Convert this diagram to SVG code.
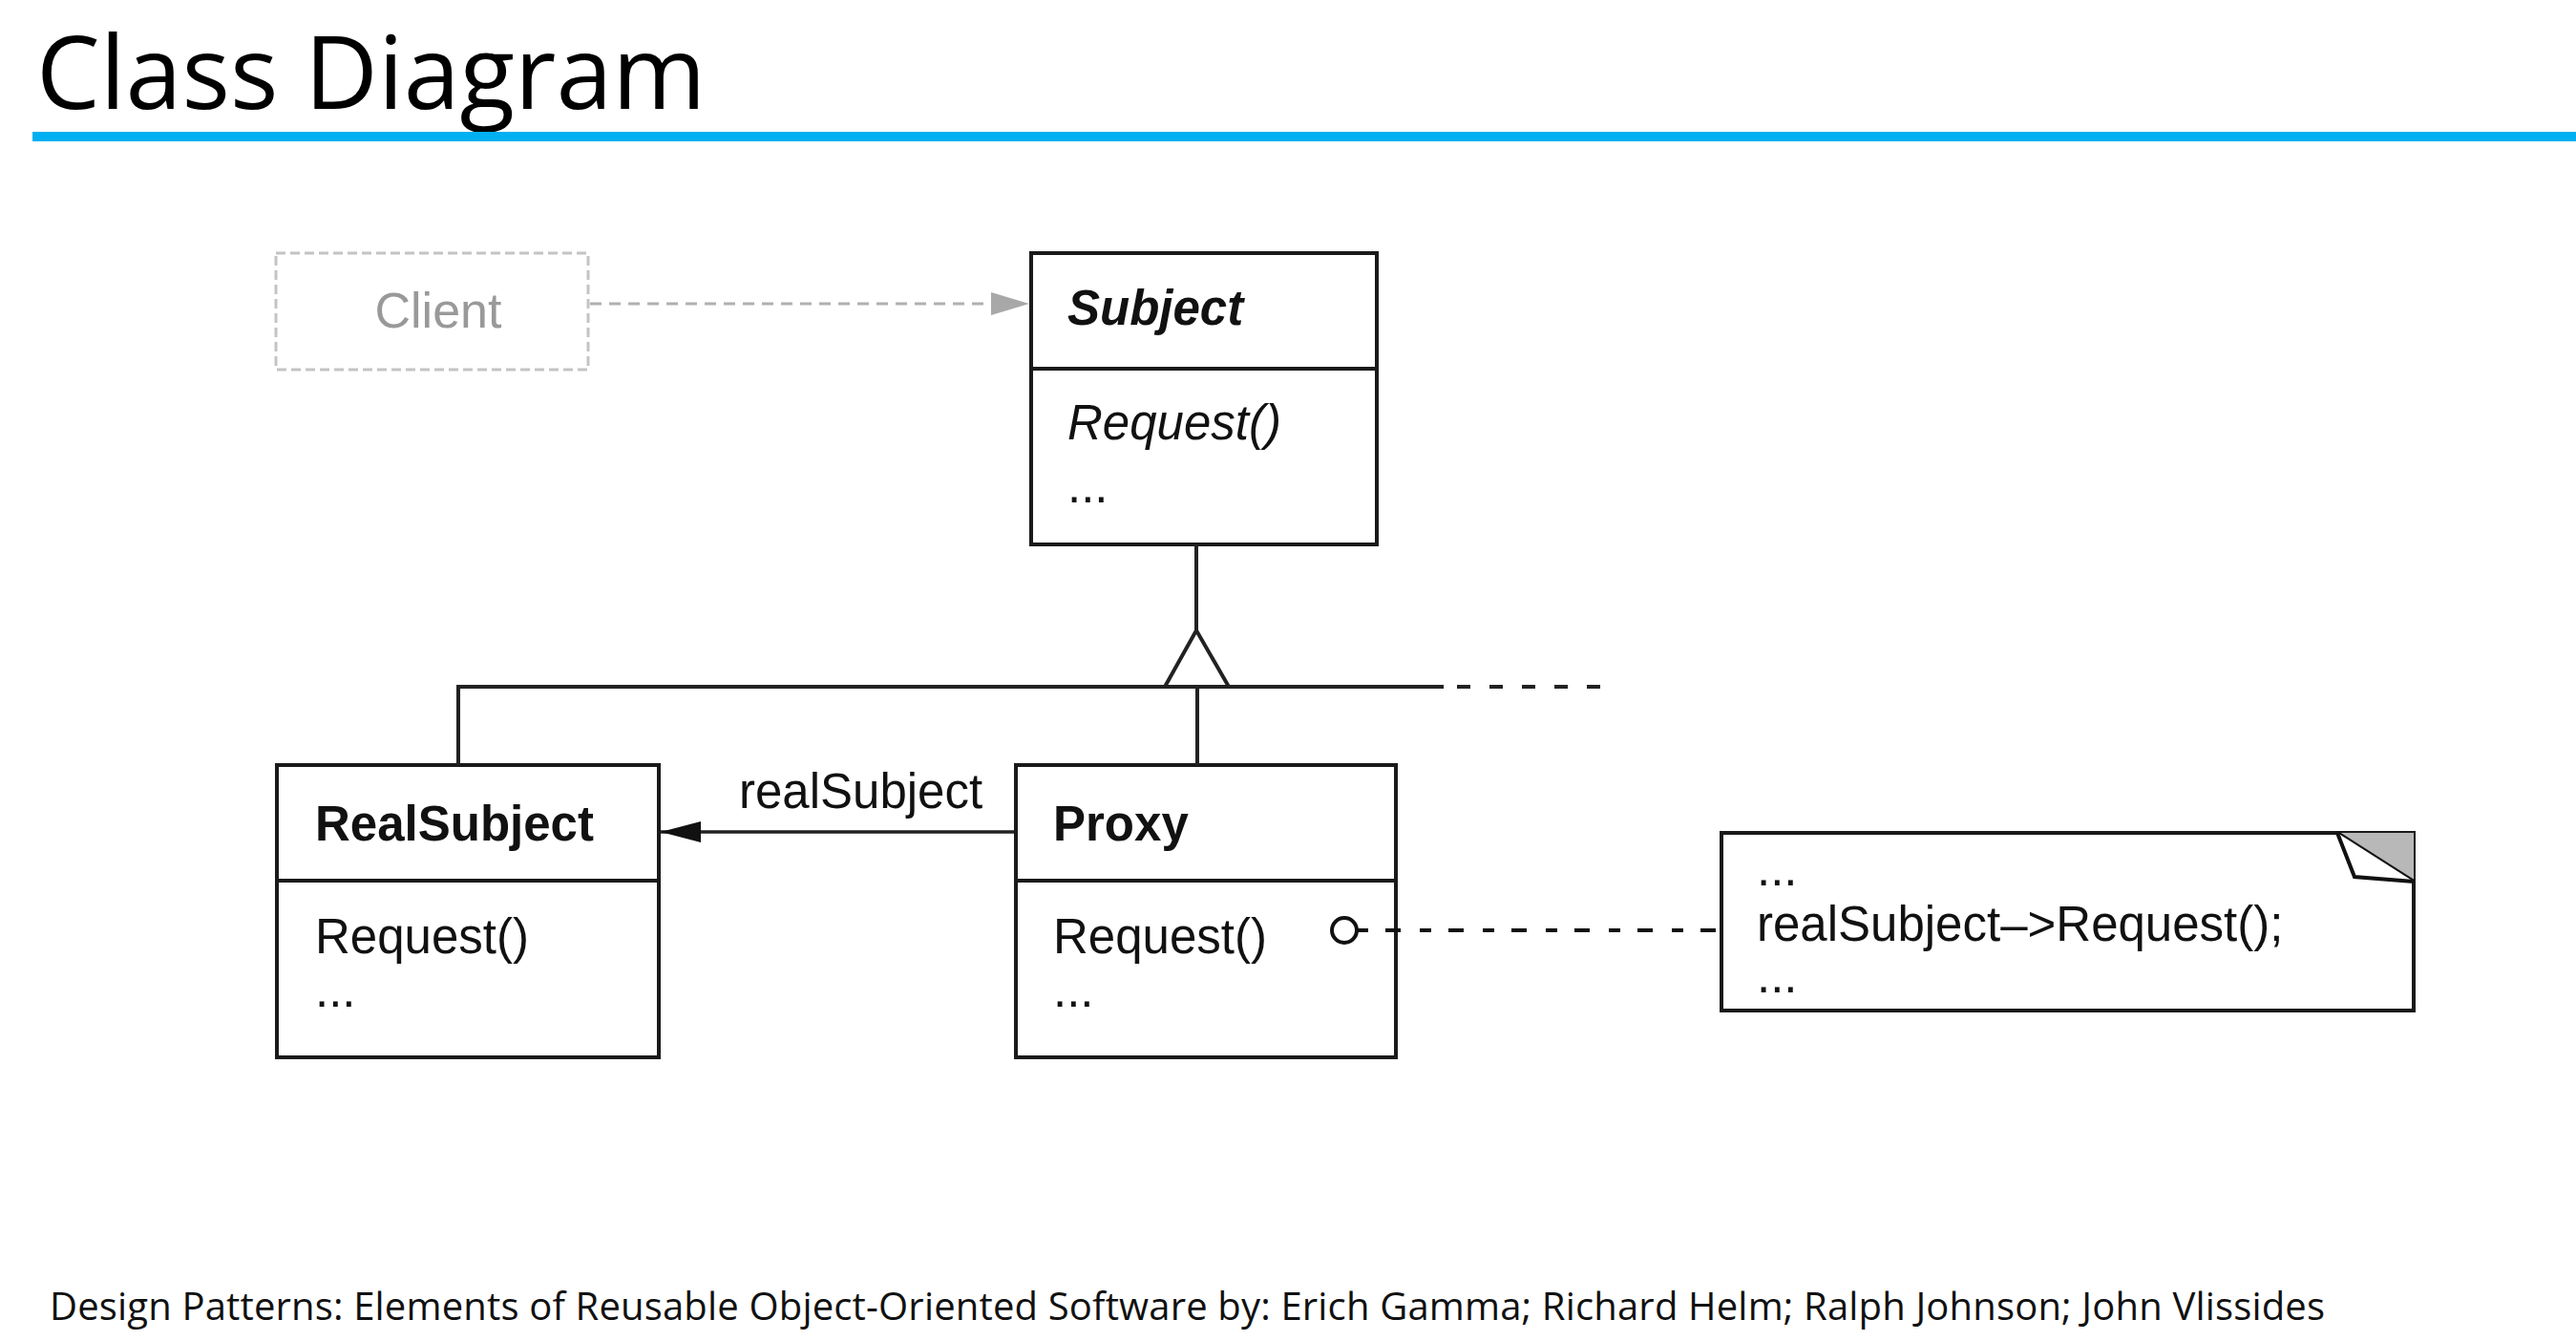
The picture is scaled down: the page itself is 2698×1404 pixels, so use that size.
<svg xmlns="http://www.w3.org/2000/svg" width="2698" height="1404" viewBox="0 0 2698 1404">
<style>
.box{fill:#fff;stroke:#1a1a1a;stroke-width:4}
.div{stroke:#1a1a1a;stroke-width:4}
.t{font-family:"Liberation Sans",Arial,sans-serif;font-size:51px;fill:#111}
.b{font-weight:bold}
.i{font-style:italic}
.ln{fill:none;stroke:#222;stroke-width:4}
</style>
<defs>
<marker id="assoc" markerWidth="44" markerHeight="24" refX="42" refY="12" orient="auto" markerUnits="userSpaceOnUse">
<path d="M0,1 L42,12 L0,23 Z" fill="#111"/>
</marker>
<marker id="clientArrow" markerWidth="42" markerHeight="26" refX="40" refY="13" orient="auto" markerUnits="userSpaceOnUse">
<path d="M0,1 L40,13 L0,25 Z" fill="#a8a8a8"/>
</marker>
</defs>
<rect width="2698" height="1404" fill="#fff"/>
<g id="title">
<text x="38" y="114" font-family="'Open Sans','Noto Sans',sans-serif" font-size="106" fill="#000">Class Diagram</text>
<rect x="34" y="138" width="2664" height="10" fill="#00b0f0"/>
</g>
<g id="node-client">
<rect x="289" y="265" width="327" height="122" fill="#fff" stroke="#c4c4c4" stroke-width="3" stroke-dasharray="10 5"/>
<text x="459" y="343" class="t" text-anchor="middle" style="fill:#999;font-size:52px">Client</text>
</g>
<g id="node-subject">
<rect x="1080" y="265" width="362" height="305" class="box"/>
<line x1="1080" y1="386" x2="1442" y2="386" class="div"/>
<text x="1118" y="340" class="t b i">Subject</text>
<text x="1118" y="460" class="t i">Request()</text>
<text x="1118" y="526" class="t">...</text>
</g>
<g id="node-realsubject">
<rect x="290" y="801" width="400" height="306" class="box"/>
<line x1="290" y1="922" x2="690" y2="922" class="div"/>
<text x="330" y="880" class="t b">RealSubject</text>
<text x="330" y="998" class="t">Request()</text>
<text x="330" y="1054" class="t">...</text>
</g>
<g id="node-proxy">
<rect x="1064" y="801" width="398" height="306" class="box"/>
<line x1="1064" y1="922" x2="1462" y2="922" class="div"/>
<text x="1103" y="880" class="t b">Proxy</text>
<text x="1103" y="998" class="t">Request()</text>
<text x="1103" y="1054" class="t">...</text>
</g>
<g id="node-note">
<rect x="1803" y="872" width="725" height="186" class="box"/>
<path d="M2448,872 L2528,872 L2528,923 Z" fill="#b8b8b8" stroke="none"/>
<path d="M2448,872 L2528,923" stroke="#111" stroke-width="4" fill="none"/>
<path d="M2448,872 L2466,918 L2528,923" stroke="#111" stroke-width="4" fill="#fff"/>
<text x="1840" y="927" class="t">...</text>
<text x="1840" y="985" class="t">realSubject–&gt;Request();</text>
<text x="1840" y="1039" class="t">...</text>
</g>
<g id="connectors">
<line x1="618" y1="318" x2="1078" y2="318" stroke="#b0b0b0" stroke-width="3" stroke-dasharray="12 8" marker-end="url(#clientArrow)"/>
<line x1="1253" y1="570" x2="1253" y2="660" class="ln"/>
<path d="M1220,719 L1253,660 L1287,719" class="ln"/>
<line x1="480" y1="719" x2="1512" y2="719" class="ln" stroke="#333"/>
<line x1="1526" y1="719" x2="1686" y2="719" class="ln" stroke="#333" stroke-dasharray="14 20"/>
<line x1="480" y1="717" x2="480" y2="801" class="ln"/>
<line x1="1254" y1="719" x2="1254" y2="801" class="ln"/>
<line x1="1062" y1="871" x2="692" y2="871" stroke="#222" stroke-width="3.5" marker-end="url(#assoc)"/>
<text x="774" y="846" class="t">realSubject</text>
<line x1="1421" y1="974" x2="1801" y2="974" stroke="#111" stroke-width="4" stroke-dasharray="12 18 16 20"/>
<circle cx="1408" cy="974" r="13" fill="#fff" stroke="#111" stroke-width="4"/>
</g>
<g id="footer">
<text x="52" y="1382" font-family="'Open Sans','Noto Sans',sans-serif" font-size="40" fill="#111" textLength="2383" lengthAdjust="spacing">Design Patterns: Elements of Reusable Object-Oriented Software by: Erich Gamma; Richard Helm; Ralph Johnson; John Vlissides</text>
</g>
</svg>
